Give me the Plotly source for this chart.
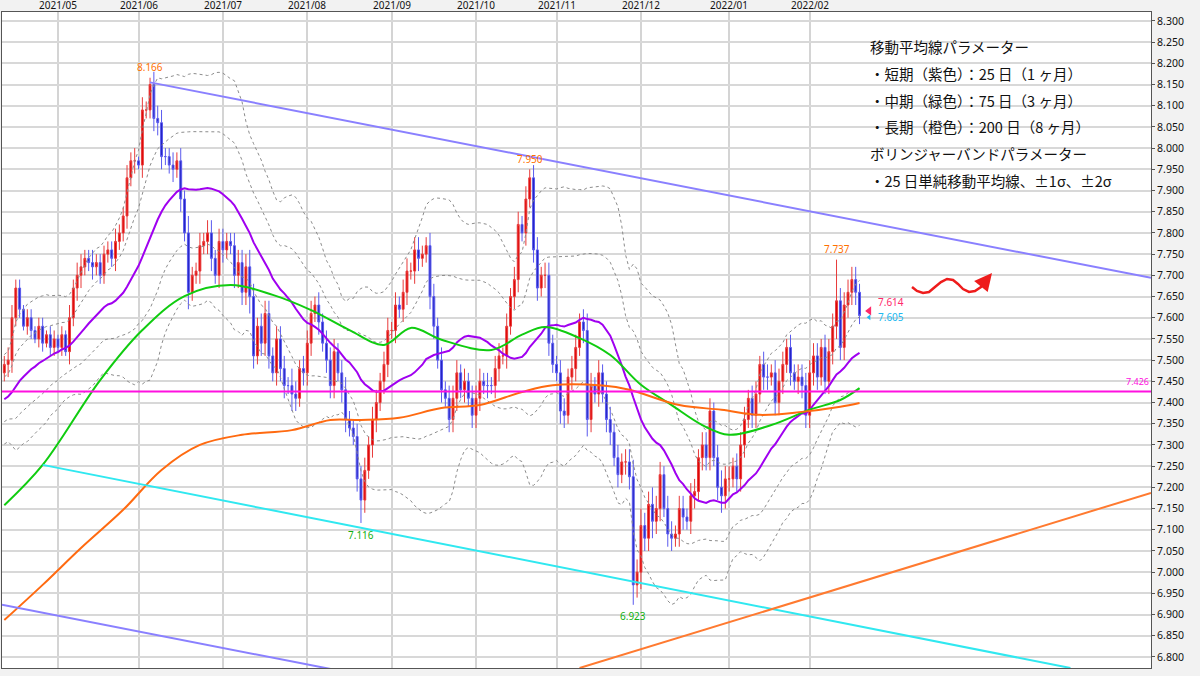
import numpy as np
import pandas as pd
import plotly.graph_objects as go

# ---------------- data ----------------
PRE_CLOSE = [7.33, 7.35, 7.32, 7.30, 7.34, 7.37, 7.36, 7.39, 7.38, 7.41, 7.40, 7.38,
             7.42, 7.44, 7.41, 7.43, 7.46, 7.44, 7.45, 7.47, 7.44, 7.46, 7.48, 7.47]
CLOSE_APR = [7.49, 7.50, 7.60, 7.67, 7.62, 7.58, 7.60, 7.57, 7.55, 7.58, 7.54, 7.56, 7.53, 7.55]
CLOSE_MAY = [7.53, 7.56, 7.52, 7.60, 7.67, 7.70, 7.72, 7.74, 7.73, 7.72, 7.73, 7.70, 7.75, 7.76,
             7.74, 7.78, 7.80, 7.84, 7.93, 7.97, 7.97]
CLOSE_JUN = [7.96, 8.09, 8.09, 8.15, 8.07, 8.06, 7.98, 7.98, 7.96, 7.95, 7.97, 7.88, 7.80, 7.66,
             7.70, 7.71, 7.77, 7.78, 7.80, 7.74, 7.70, 7.78]
CLOSE_JUL = [7.76, 7.78, 7.77, 7.70, 7.73, 7.66, 7.72, 7.65, 7.51, 7.58, 7.54, 7.61, 7.51, 7.47,
             7.55, 7.48, 7.44, 7.44, 7.42, 7.41, 7.48, 7.47]
CLOSE_AUG = [7.54, 7.61, 7.63, 7.59, 7.54, 7.50, 7.44, 7.52, 7.47, 7.43, 7.36, 7.34, 7.32, 7.22,
             7.17, 7.24, 7.30, 7.36, 7.40, 7.45, 7.49, 7.57]
CLOSE_SEP = [7.57, 7.63, 7.62, 7.66, 7.71, 7.71, 7.76, 7.74, 7.75, 7.77, 7.65, 7.58, 7.50, 7.43,
             7.41, 7.36, 7.41, 7.47, 7.43, 7.45, 7.41, 7.37]
CLOSE_OCT = [7.41, 7.45, 7.44, 7.44, 7.44, 7.48, 7.51, 7.51, 7.58, 7.65, 7.69, 7.82, 7.80, 7.88,
             7.93, 7.76, 7.67, 7.70, 7.70, 7.54, 7.49]
CLOSE_NOV = [7.47, 7.38, 7.37, 7.46, 7.48, 7.53, 7.59, 7.57, 7.36, 7.44, 7.42, 7.47, 7.42, 7.36,
             7.33, 7.27, 7.23, 7.26, 7.26, 7.225, 6.97, 7.00]
CLOSE_DEC = [7.11, 7.08, 7.16, 7.12, 7.15, 7.23, 7.15, 7.09, 7.08, 7.09, 7.15, 7.13, 7.12, 7.18,
             7.19, 7.27, 7.30, 7.27, 7.38, 7.27, 7.20, 7.18, 7.22]
CLOSE_JAN = [7.22, 7.25, 7.22, 7.30, 7.36, 7.41, 7.37, 7.42, 7.49, 7.46, 7.46, 7.47, 7.40, 7.45,
             7.49, 7.53, 7.47, 7.45, 7.46, 7.44, 7.37]
CLOSE_FEB = [7.47, 7.51, 7.46, 7.53, 7.45, 7.52, 7.58, 7.64, 7.53, 7.63, 7.66, 7.69, 7.66, 7.605]

WICK = ([2,3,3,2,2,1,2,2,1,2,2,1,2,2] +
        [1,2,1,3,2,3,3,2,2,3,2,2,2,2,2,3,2,2,3,2,3] +
        [1,3,2,2,3,3,3,2,2,3,2,3,2,4,2,2,3,2,3,3,2,3] +
        [3,2,2,3,3,3,3,4,3,2,3,3,3,2,3,3,3,2,4,3,2,3] +
        [3,3,2,3,2,3,3,3,2,3,3,2,2,3,3,3,2,3,3,2,3,3] +
        [2,3,2,3,3,2,3,3,2,2,3,3,2,3,2,3,3,3,2,3,2,3] +
        [3,3,2,3,2,3,3,2,3,2,3,3,2,3,2,3,3,2,3,3,2] +
        [2,3,3,2,3,3,2,3,4,3,2,3,2,3,3,2,3,2,3,3,4,3] +
        [4,3,3,4,3,3,2,3,3,2,3,3,2,3,3,2,3,3,3,2,3,4,3] +
        [3,2,3,3,3,2,3,3,2,3,3,2,3,3,3,2,3,2,3,3,3] +
        [3,3,3,2,3,3,3,3,3,3,3,3,3,2])

HIGH_OVERRIDE = {38: 8.166, 137: 7.950, 217: 7.737}
LOW_OVERRIDE = {93: 7.116, 164: 6.923}

MONTH_LABELS = ["2021/05", "2021/06", "2021/07", "2021/08", "2021/09", "2021/10",
                "2021/11", "2021/12", "2022/01", "2022/02"]

MA75_IDX = [0, 10, 25, 36, 47, 59, 70, 80, 90, 99, 106, 114, 127, 135, 141, 150, 158, 166,
            174, 182, 189, 200, 210, 218, 223]
MA75_VAL = [7.158, 7.253, 7.453, 7.571, 7.651, 7.677, 7.654, 7.618, 7.571, 7.536, 7.576, 7.548,
            7.524, 7.560, 7.578, 7.552, 7.512, 7.442, 7.394, 7.347, 7.324, 7.347, 7.383, 7.406, 7.434]
MA200_IDX = [0, 10, 20, 31, 41, 51, 62, 75, 85, 93, 103, 114, 124, 135, 143, 156, 163, 176,
             187, 197, 208, 218, 223]
MA200_VAL = [6.887, 6.970, 7.057, 7.147, 7.241, 7.300, 7.324, 7.335, 7.359, 7.359, 7.364, 7.387,
             7.394, 7.425, 7.441, 7.440, 7.430, 7.394, 7.383, 7.371, 7.378, 7.390, 7.399]

TREND_UPPER = ([38, 299], [8.155, 7.694])
TREND_LOWER = ([-0.6, 299], [6.923, 6.394])
TREND_CYAN = ([10, 278], [7.253, 6.774])
TREND_ORANGE = ([150, 299], [6.774, 7.187])
HLINE = 7.426
LAST_BID, LAST_ASK = 7.614, 7.605

# ---------------- build ----------------
close = CLOSE_APR + CLOSE_MAY + CLOSE_JUN + CLOSE_JUL + CLOSE_AUG + CLOSE_SEP + \
        CLOSE_OCT + CLOSE_NOV + CLOSE_DEC + CLOSE_JAN + CLOSE_FEB
n = len(close)
dates = pd.bdate_range("2021-04-13", periods=n)
idx = np.arange(n)
opens = [PRE_CLOSE[-1]] + close[:-1]
high = [max(o, c) + WICK[i] / 100 for i, (o, c) in enumerate(zip(opens, close))]
low = [min(o, c) - WICK[i] / 100 for i, (o, c) in enumerate(zip(opens, close))]
for k, v in HIGH_OVERRIDE.items():
    high[k] = v
for k, v in LOW_OVERRIDE.items():
    low[k] = v

allc = pd.Series(PRE_CLOSE + close)
sma = allc.rolling(25).mean().values[len(PRE_CLOSE):]
sd = allc.rolling(25).std(ddof=0).values[len(PRE_CLOSE):]

month_pos = []
for i in range(1, n):
    if dates[i].month != dates[i - 1].month:
        month_pos.append(i)

fig = go.Figure()
fig.add_trace(go.Candlestick(
    x=idx, open=opens, high=high, low=low, close=close,
    increasing=dict(line=dict(color="#e83a3a", width=1), fillcolor="#dd0000"),
    decreasing=dict(line=dict(color="#5a5aee", width=1), fillcolor="#2020c0"),
    whiskerwidth=0, showlegend=False, hoverinfo="skip"))

for m in (-2, -1, 1, 2):
    fig.add_trace(go.Scatter(x=idx, y=sma + m * sd, mode="lines",
                             line=dict(color="#8c8c8c", width=1, dash="dot"),
                             showlegend=False, hoverinfo="skip"))
fig.add_trace(go.Scatter(x=idx, y=sma, mode="lines", line=dict(color="#a000f0", width=2),
                         showlegend=False, hoverinfo="skip"))
fig.add_trace(go.Scatter(x=MA75_IDX, y=MA75_VAL, mode="lines", line_shape="spline",
                         line=dict(color="#10cc10", width=2), showlegend=False, hoverinfo="skip"))
fig.add_trace(go.Scatter(x=MA200_IDX, y=MA200_VAL, mode="lines", line_shape="spline",
                         line=dict(color="#ff6a10", width=2), showlegend=False, hoverinfo="skip"))

for (tx, ty), col in [(TREND_UPPER, "#8a80ff"), (TREND_LOWER, "#8a80ff"),
                      (TREND_CYAN, "#30e8f0"), (TREND_ORANGE, "#ff7a30")]:
    fig.add_trace(go.Scatter(x=tx, y=ty, mode="lines", line=dict(color=col, width=2),
                             showlegend=False, hoverinfo="skip"))
fig.add_trace(go.Scatter(x=[-0.6, 299], y=[HLINE, HLINE], mode="lines",
                         line=dict(color="#ff10e0", width=2), showlegend=False, hoverinfo="skip"))

# price markers
fig.add_trace(go.Scatter(x=[n + 1.5], y=[LAST_BID + 0.002], mode="markers",
                         marker=dict(symbol="triangle-left", size=8, color="#ff2a6a"),
                         showlegend=False, hoverinfo="skip"))
fig.add_trace(go.Scatter(x=[n + 1.5], y=[LAST_ASK - 0.004], mode="markers",
                         marker=dict(symbol="triangle-left", size=5, color="#20b8f0"),
                         showlegend=False, hoverinfo="skip"))

ann = []
def lab(x, y, t, c, size=10, xa="center", ya="bottom"):
    ann.append(dict(x=x, y=y, text=t, showarrow=False, font=dict(color=c, size=size),
                    xanchor=xa, yanchor=ya))
lab(38, HIGH_OVERRIDE[38] + 0.004, "8.166", "#ff7000")
lab(137, HIGH_OVERRIDE[137] + 0.004, "7.950", "#ff7000")
lab(217, HIGH_OVERRIDE[217] + 0.004, "7.737", "#ff7000")
lab(93, LOW_OVERRIDE[93] - 0.006, "7.116", "#10b010", ya="top")
lab(164, LOW_OVERRIDE[164] - 0.006, "6.923", "#10b010", ya="top")
lab(n + 3.2, LAST_BID + 0.002, "7.614", "#ff2a6a", xa="left", ya="bottom")
lab(n + 3.2, LAST_ASK - 0.004, "7.605", "#20b8f0", xa="left", ya="middle")
lab(299, HLINE + 0.003, "7.426", "#ff10e0", size=9, xa="right")

# month labels above the plot
for p, t in zip(month_pos, MONTH_LABELS):
    ann.append(dict(x=p, xref="x", yref="paper", y=1 + 6.5 / 656, text=t, showarrow=False,
                    xanchor="center", yanchor="middle", font=dict(size=10, color="#111")))

txt = ["移動平均線パラメーター", "・短期（紫色）：25 日（1 ヶ月）", "・中期（緑色）：75 日（3 ヶ月）",
       "・長期（橙色）：200 日（8 ヶ月）", "ボリンジャーバンドパラメーター", "・25 日単純移動平均線、±1σ、±2σ"]
for i, t in enumerate(txt):
    ann.append(dict(xref="paper", yref="paper", x=(868 - 2) / 1149, y=1 - (35 + 26.6 * i) / 656,
                    text=t, showarrow=False, xanchor="left", yanchor="middle",
                    font=dict(size=14.5, color="#111", family="Noto Sans CJK JP")))

# red wavy arrow (decoration, paper coords)
def px(x, y):
    return (x - 2) / 1149, 1 - (y - 12) / 656
pts = [(912, 287), (917, 291), (923, 293), (929, 292), (935, 287), (941, 282), (947, 279),
       (953, 280), (958, 284), (963, 289), (969, 292), (975, 291), (981, 287), (986, 281)]
path = "M " + " L ".join(f"{px(*p)[0]:.4f},{px(*p)[1]:.4f}" for p in pts)
shapes = [dict(type="path", path=path, xref="paper", yref="paper",
               line=dict(color="#ee1c1c", width=2.5))]
ax1, ay1 = px(992, 273)
ann.append(dict(xref="paper", yref="paper", axref="pixel", ayref="pixel", x=ax1, y=ay1,
                ax=-9, ay=11, showarrow=True, arrowhead=2, arrowsize=1.4, arrowwidth=2.5,
                arrowcolor="#ee1c1c", text=""))

ticks = np.round(np.arange(6.80, 8.3001, 0.05), 3)
fig.update_layout(
    width=1200, height=676, margin=dict(l=2, r=49, t=12, b=8),
    paper_bgcolor="#f2f2f2", plot_bgcolor="white",
    font=dict(family="Noto Sans, DejaVu Sans", size=10, color="#111"),
    annotations=ann, shapes=shapes, hovermode=False,
    xaxis=dict(range=[-0.6, 299], side="top", tickvals=month_pos, showticklabels=False,
               showgrid=True, gridcolor="#d4d4d4", gridwidth=1.5, rangeslider=dict(visible=False),
               showline=True, linecolor="#555", mirror=True, ticks="", zeroline=False,
               automargin=False),
    yaxis=dict(range=[6.774, 8.321], side="right", tickvals=ticks,
               ticktext=[f"{t:.3f}" for t in ticks], showgrid=True, gridcolor="#d8d8d8",
               gridwidth=1.5, showline=True, linecolor="#555", mirror=True, ticks="outside",
               ticklen=3, tickcolor="#555", zeroline=False, automargin=False,
               tickfont=dict(size=10.5)),
)
fig.write_html("out.html", config={"displayModeBar": False},
               post_script="document.body.style.margin='0';document.body.style.overflow='hidden';")
